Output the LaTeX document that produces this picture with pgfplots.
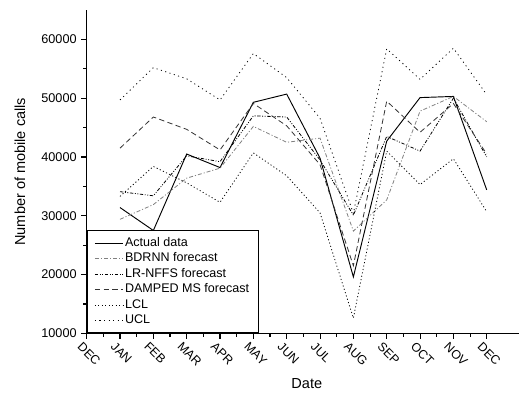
\documentclass[border=0pt]{standalone}
\usepackage{fontspec}
\setmainfont{Liberation Sans}
\usepackage{pgfplots}
\usepackage{pgfplotstable}
\pgfplotsset{compat=1.18}
\pgfplotstableread{
m actual bdrnn lrnffs damped lcl ucl
1 31400 29400 34100 41500 33300 49700
2 27500 31900 33400 46800 38400 55200
3 40500 36400 40200 44700 35600 53300
4 38200 38100 39200 41200 32300 49700
5 49300 45200 47000 49100 40700 57600
6 50700 42500 46800 45300 36800 53500
7 39800 43200 39500 38700 30500 46600
8 19600 27400 30100 21500 12600 30400
9 42700 32700 43500 49500 41000 58400
10 50100 47800 41000 44200 35300 53200
11 50300 50300 50000 49100 39700 58500
12 34400 46000 40000 40500 30700 50600
}\data
\begin{document}
\begin{tikzpicture}
\begin{axis}[
 at={(0,0)}, anchor=south west,
 scale only axis, width=325pt, height=242.5pt,
 xmin=0, xmax=13, ymin=10000, ymax=65000,
 axis x line*=bottom, axis y line*=left,
 axis line style={-, line width=0.8pt},
 xtick={0,...,12},
 xticklabels={DEC,JAN,FEB,MAR,APR,MAY,JUN,JUL,AUG,SEP,OCT,NOV,DEC},
 minor x tick num=1,
 ytick={10000,20000,...,60000},
 minor y tick num=1,
 tick align=outside,
 major tick length=4pt, minor tick length=2.5pt,
 tick style={line width=0.8pt, black},
 scaled y ticks=false,
 yticklabel style={/pgf/number format/1000 sep={}, /pgf/number format/assume math mode=true, font=\fontsize{9.5}{11}\selectfont},
 xticklabel style={rotate=-45, anchor=north west, font=\fontsize{9.3}{10}\selectfont, xshift=-4pt},
 xlabel={Date}, ylabel={Number of mobile calls},
 label style={font=\fontsize{10.9}{12}\selectfont},
 xlabel style={at={(axis description cs:0.508,-0.155)}, anchor=center},
 ylabel style={at={(axis description cs:-0.154,0.5)}, anchor=center},
 legend style={at={(0,0)}, anchor=south west, draw=black, line width=0.8pt,
   nodes={font=\fontsize{9.4}{11}\selectfont, text height=7pt, text depth=2pt, inner sep=1.3pt},
   inner xsep=5.5pt, inner ysep=3.5pt, row sep=0pt,
   /tikz/every even column/.append style={column sep=1.5pt}},
 legend cell align=left,
 legend image code/.code={\draw[#1, line width=0.6pt] (0pt,0pt) -- (21pt,0pt);},
]
\addplot[black, line width=0.7pt] table[x=m,y=actual] {\data};
\addlegendentry{Actual data}
\addplot[gray, line width=0.6pt, dash pattern=on 3pt off 1.5pt on 0.8pt off 1.5pt] table[x=m,y=bdrnn] {\data};
\addlegendentry{BDRNN forecast}
\addplot[black, line width=0.6pt, dash pattern=on 2.5pt off 1.2pt on 0.7pt off 1.2pt on 0.7pt off 1.2pt] table[x=m,y=lrnffs] {\data};
\addlegendentry{LR-NFFS forecast}
\addplot[black!80, line width=0.6pt, dash pattern=on 4pt off 2.5pt] table[x=m,y=damped] {\data};
\addlegendentry{DAMPED MS forecast}
\addplot[black, line width=0.6pt, dash pattern=on 0.8pt off 1.8pt] table[x=m,y=lcl] {\data};
\addlegendentry{LCL}
\addplot[black, line width=0.6pt, dash pattern=on 0.8pt off 2.6pt] table[x=m,y=ucl] {\data};
\addlegendentry{UCL}
\end{axis}
\pgfresetboundingbox
\useasboundingbox (-65pt,-44pt) rectangle (324.2pt,250pt);
\end{tikzpicture}
\end{document}
